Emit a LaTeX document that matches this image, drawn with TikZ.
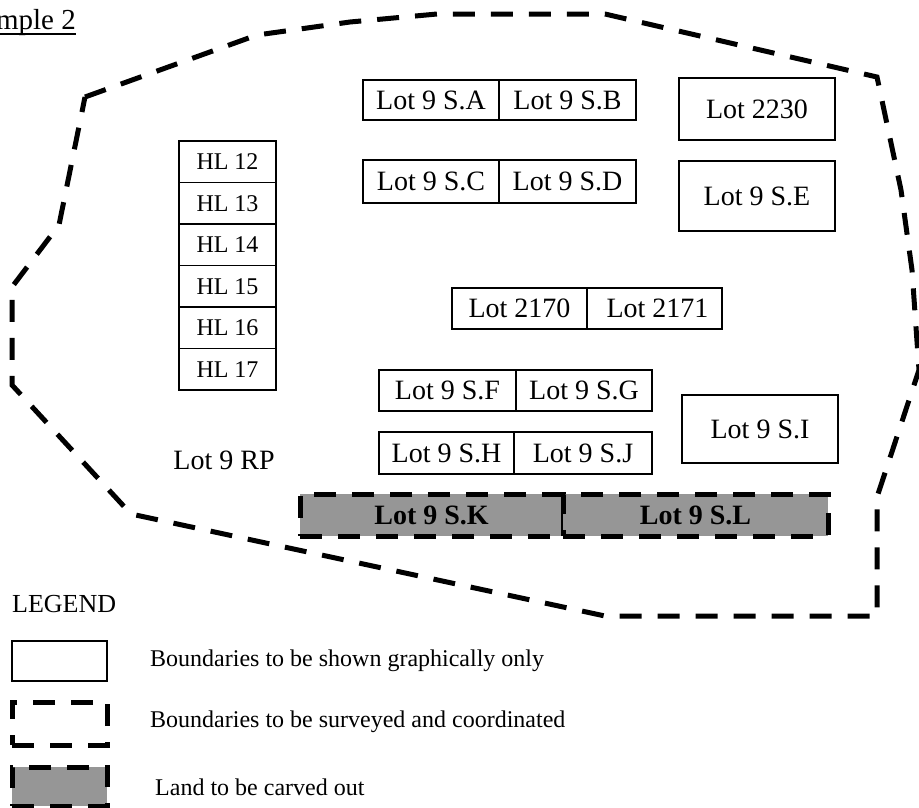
\documentclass[tikz,border=0pt]{standalone}
\usepackage{fontspec}
\setmainfont{Liberation Serif}
\definecolor{carve}{RGB}{150,150,150}
\tikzset{
  lot/.style={draw, line width=1.3pt, inner sep=0pt, outer sep=0pt,
    font=\fontsize{28}{30}\selectfont},
  hl/.style={lot, font=\fontsize{24}{26}\selectfont,
    minimum width=97pt, minimum height=41.5pt},
  survey/.style={line width=5pt, dash pattern=on 22pt off 16pt},
  carved/.style={survey, draw, fill=carve, inner sep=0pt, outer sep=0pt,
    font=\bfseries\fontsize{28}{30}\selectfont},
  plain/.style={inner sep=0pt, font=\fontsize{28}{30}\selectfont},
  legendtext/.style={anchor=west, inner sep=0pt, font=\fontsize{24}{26}\selectfont}
}
\begin{document}
\begin{tikzpicture}[x=1pt, y=-1pt]
  \useasboundingbox (0,0) rectangle (919,807);
  \clip (0,0) rectangle (919,807);

  % heading
  \node[plain, anchor=base east, font=\fontsize{29}{31}\selectfont] (title) at (76,29) {Example 2};
  \draw[line width=1.5pt] ([yshift=-5pt]title.base west) -- ([yshift=-5pt]title.base east);

  % outer boundary of the parcel
  \draw[survey] (85,97) -- (257,35) -- (350,22) -- (437,14) -- (605,14) -- (877,77)
    -- (901,190) -- (912,270) -- (919,370) -- (877,497) -- (877,616) -- (605,616)
    -- (131,514) -- (12,385) -- (12,287) -- (59,225) -- cycle;

  % upper pairs of lots
  \node[lot, minimum width=136pt, minimum height=40pt] (sa) at (431,100) {Lot 9 S.A};
  \node[lot, minimum width=137pt, minimum height=40pt] (sb) at (567.5,100) {Lot 9 S.B};
  \node[lot, minimum width=136pt, minimum height=43pt] (sc) at (431,181.5) {Lot 9 S.C};
  \node[lot, minimum width=137pt, minimum height=43pt] (sd) at (567.5,181.5) {Lot 9 S.D};

  \node[lot, minimum width=156pt, minimum height=62pt] (l2230) at (757,109) {Lot 2230};
  \node[lot, minimum width=156pt, minimum height=70pt] (se) at (757,196) {Lot 9 S.E};

  % HL column
  \node[hl] (hl12) at (227.5,161.75) {HL 12};
  \node[hl] (hl13) at (227.5,203.25) {HL 13};
  \node[hl] (hl14) at (227.5,244.75) {HL 14};
  \node[hl] (hl15) at (227.5,286.25) {HL 15};
  \node[hl] (hl16) at (227.5,327.75) {HL 16};
  \node[hl] (hl17) at (227.5,369.25) {HL 17};

  % middle lots
  \node[lot, minimum width=135pt, minimum height=41pt] (l2170) at (519.5,308.5) {Lot 2170};
  \node[lot, minimum width=135pt, minimum height=41pt] (l2171) at (654.5,308.5) {\hspace{6pt}Lot 2171};

  \node[lot, minimum width=137pt, minimum height=41pt] (sf) at (447.5,390.5) {Lot 9 S.F};
  \node[lot, minimum width=136pt, minimum height=41pt] (sg) at (584,390.5) {Lot 9 S.G};
  \node[lot, minimum width=135pt, minimum height=42pt] (sh) at (446.5,453) {Lot 9 S.H};
  \node[lot, minimum width=138pt, minimum height=42pt] (sj) at (583,453) {Lot 9 S.J};

  \node[lot, minimum width=156pt, minimum height=68pt] (si) at (760,429) {Lot 9 S.I};

  \node[plain] (rp) at (224,460) {Lot 9 RP};

  % lots to be carved out
  \node[carved, minimum width=263pt, minimum height=42pt] (sk) at (431.5,515) {Lot 9 S.K};
  \node[carved, minimum width=265pt, minimum height=42pt] (sl) at (695.5,515) {Lot 9 S.L};

  % legend
  \node[plain, anchor=west, font=\fontsize{26}{28}\selectfont] (legend) at (12,604) {LEGEND};
  \node[draw, line width=1.3pt, minimum width=95pt, minimum height=40pt] (keyplain) at (59.5,661) {};
  \node[draw, survey, minimum width=95pt, minimum height=43pt] (keysurvey) at (59.5,723.5) {};
  \node[carved, minimum width=95pt, minimum height=39pt] (keycarve) at (59.5,786.5) {};
  \node[legendtext] (txtplain) at (150,661) {Boundaries to be shown graphically only};
  \node[legendtext] (txtsurvey) at (150,722) {Boundaries to be surveyed and coordinated};
  \node[legendtext] (txtcarve) at (155,787) {Land to be carved out};
\end{tikzpicture}
\end{document}
